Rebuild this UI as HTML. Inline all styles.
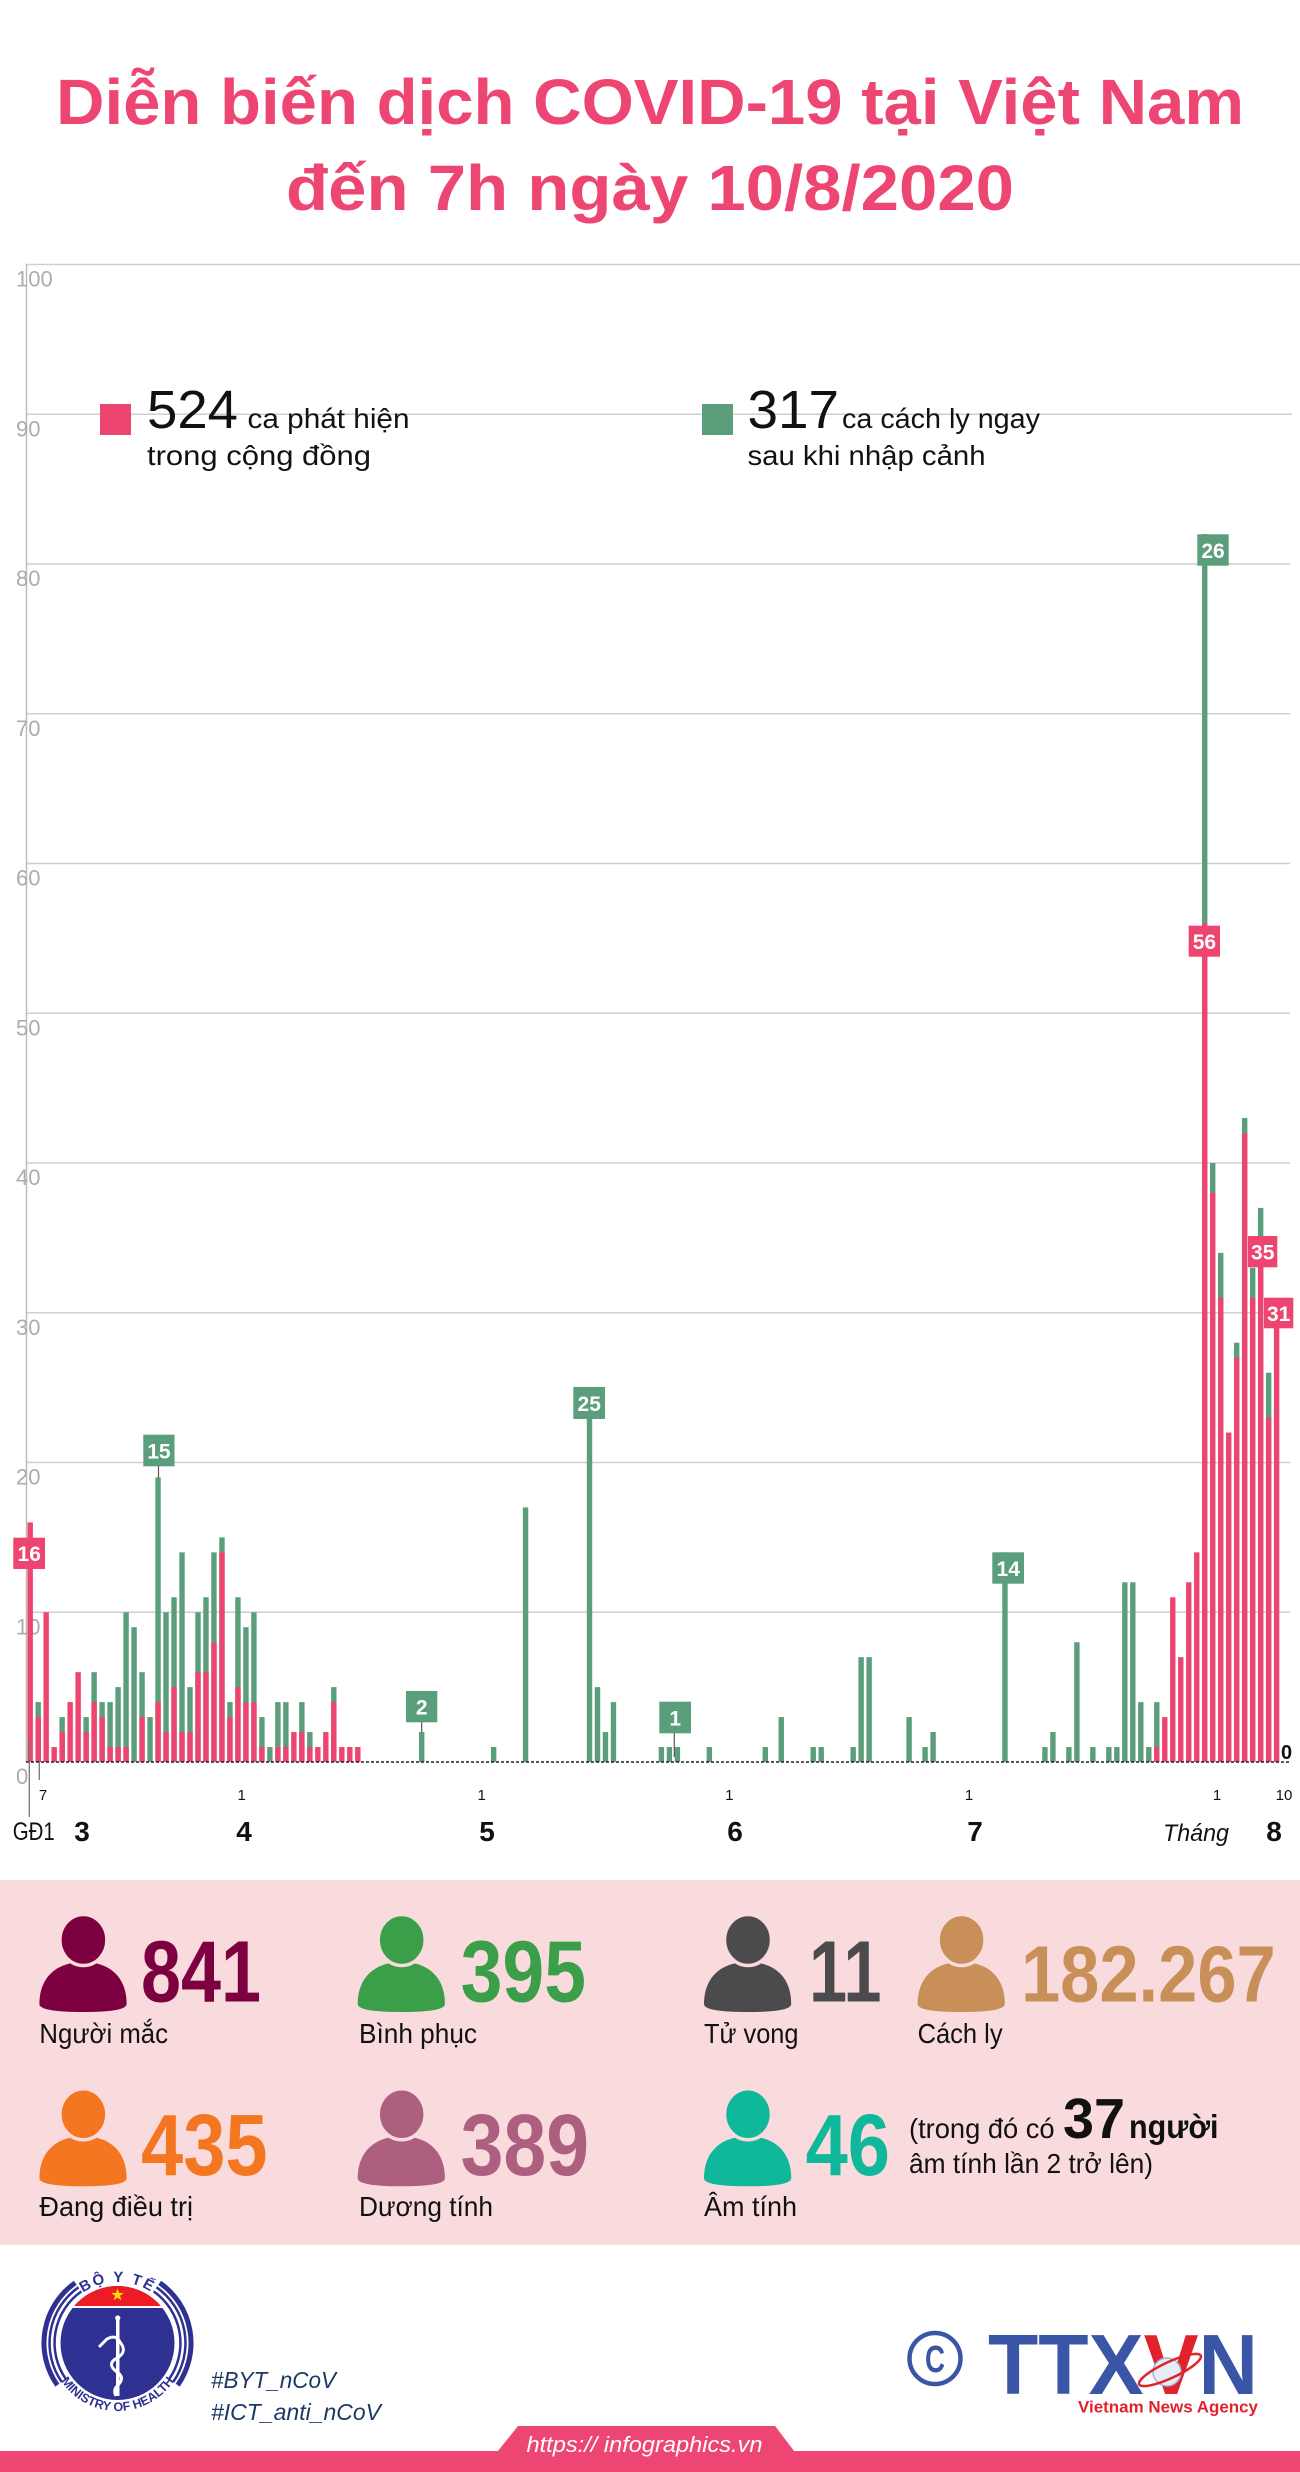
<!DOCTYPE html>
<html><head><meta charset="utf-8">
<style>
html,body{margin:0;padding:0;background:#fff;}
svg{display:block;}
text{font-family:"Liberation Sans", "DejaVu Sans", sans-serif;}
.g{fill:#5b9e7b;}
.p{fill:#ee4570;}
.yl{font-size:22px;fill:#acacac;}
.dl{font-size:15px;fill:#111;text-anchor:middle;}
.mo{font-size:28px;font-weight:bold;fill:#111;text-anchor:middle;}
.bx{font-size:21px;font-weight:bold;fill:#fff;text-anchor:middle;}
.num{font-weight:bold;}
.lab{font-size:28px;fill:#111;}
</style></head><body>
<svg width="1300" height="2472" viewBox="0 0 1300 2472" xmlns="http://www.w3.org/2000/svg">
<rect x="0" y="0" width="1300" height="2472" fill="#fff"/>

<!-- Title -->
<text x="56" y="124" font-size="64" font-weight="bold" fill="#ee4672" textLength="1188" lengthAdjust="spacingAndGlyphs">Diễn biến dịch COVID-19 tại Việt Nam</text>
<text x="286" y="210" font-size="64" font-weight="bold" fill="#ee4672" textLength="728" lengthAdjust="spacingAndGlyphs">đến 7h ngày 10/8/2020</text>

<!-- Grid -->
<g stroke="#cfcfcf" stroke-width="1.5">
<line x1="26" y1="264.5" x2="1300" y2="264.5"/>
<line x1="26" y1="414.25" x2="1292" y2="414.25"/>
<line x1="26" y1="564" x2="1290" y2="564"/>
<line x1="26" y1="713.75" x2="1290" y2="713.75"/>
<line x1="26" y1="863.5" x2="1290" y2="863.5"/>
<line x1="26" y1="1013.25" x2="1290" y2="1013.25"/>
<line x1="26" y1="1163" x2="1290" y2="1163"/>
<line x1="26" y1="1312.75" x2="1290" y2="1312.75"/>
<line x1="26" y1="1462.5" x2="1290" y2="1462.5"/>
<line x1="26" y1="1612.25" x2="1290" y2="1612.25"/>
</g>
<line x1="26.5" y1="264" x2="26.5" y2="1762" stroke="#bdbdbd" stroke-width="1.5"/>

<!-- Y labels -->
<text class="yl" x="16" y="286.5">100</text>
<text class="yl" x="16" y="436.25">90</text>
<text class="yl" x="16" y="586">80</text>
<text class="yl" x="16" y="735.75">70</text>
<text class="yl" x="16" y="885.5">60</text>
<text class="yl" x="16" y="1035.25">50</text>
<text class="yl" x="16" y="1185">40</text>
<text class="yl" x="16" y="1334.75">30</text>
<text class="yl" x="16" y="1484.5">20</text>
<text class="yl" x="16" y="1634.25">10</text>
<text class="yl" x="16" y="1784">0</text>

<!-- Legend -->
<rect x="100" y="404" width="31" height="31" fill="#ee4570"/>
<text x="147" y="428" font-size="54" fill="#111" textLength="91" lengthAdjust="spacingAndGlyphs">524</text>
<text x="247.5" y="428" font-size="28" fill="#111" textLength="162" lengthAdjust="spacingAndGlyphs">ca phát hiện</text>
<text x="147" y="465" font-size="28" fill="#111" textLength="224" lengthAdjust="spacingAndGlyphs">trong cộng đồng</text>
<rect x="702" y="404" width="31" height="31" fill="#5b9e7b"/>
<text x="747.5" y="428" font-size="54" fill="#111" textLength="91.5" lengthAdjust="spacingAndGlyphs">317</text>
<text x="842" y="428" font-size="28" fill="#111" textLength="198" lengthAdjust="spacingAndGlyphs">ca cách ly ngay</text>
<text x="747.5" y="465" font-size="28" fill="#111" textLength="238" lengthAdjust="spacingAndGlyphs">sau khi nhập cảnh</text>

<!-- Bars -->
<g>
<rect class="p" x="27.50" y="1522.4" width="5.4" height="239.6"/>
<rect class="g" x="35.49" y="1702.1" width="5.4" height="59.9"/><rect class="p" x="35.49" y="1717.07" width="5.4" height="44.93"/>
<rect class="p" x="43.48" y="1612.25" width="5.4" height="149.75"/>
<rect class="p" x="51.47" y="1747.02" width="5.4" height="14.98"/>
<rect class="g" x="59.46" y="1717.07" width="5.4" height="44.93"/><rect class="p" x="59.46" y="1732.05" width="5.4" height="29.95"/>
<rect class="p" x="67.45" y="1702.1" width="5.4" height="59.9"/>
<rect class="p" x="75.44" y="1672.15" width="5.4" height="89.85"/>
<rect class="g" x="83.43" y="1717.07" width="5.4" height="44.93"/><rect class="p" x="83.43" y="1732.05" width="5.4" height="29.95"/>
<rect class="g" x="91.42" y="1672.15" width="5.4" height="89.85"/><rect class="p" x="91.42" y="1702.1" width="5.4" height="59.9"/>
<rect class="g" x="99.41" y="1702.1" width="5.4" height="59.9"/><rect class="p" x="99.41" y="1717.07" width="5.4" height="44.93"/>
<rect class="g" x="107.40" y="1702.1" width="5.4" height="59.9"/><rect class="p" x="107.40" y="1747.02" width="5.4" height="14.98"/>
<rect class="g" x="115.39" y="1687.12" width="5.4" height="74.88"/><rect class="p" x="115.39" y="1747.02" width="5.4" height="14.98"/>
<rect class="g" x="123.38" y="1612.25" width="5.4" height="149.75"/><rect class="p" x="123.38" y="1747.02" width="5.4" height="14.98"/>
<rect class="g" x="131.37" y="1627.22" width="5.4" height="134.78"/>
<rect class="g" x="139.36" y="1672.15" width="5.4" height="89.85"/><rect class="p" x="139.36" y="1717.07" width="5.4" height="44.93"/>
<rect class="g" x="147.35" y="1717.07" width="5.4" height="44.93"/>
<rect class="g" x="155.34" y="1477.47" width="5.4" height="284.53"/><rect class="p" x="155.34" y="1702.1" width="5.4" height="59.9"/>
<rect class="g" x="163.33" y="1612.25" width="5.4" height="149.75"/><rect class="p" x="163.33" y="1732.05" width="5.4" height="29.95"/>
<rect class="g" x="171.32" y="1597.27" width="5.4" height="164.73"/><rect class="p" x="171.32" y="1687.12" width="5.4" height="74.88"/>
<rect class="g" x="179.31" y="1552.35" width="5.4" height="209.65"/><rect class="p" x="179.31" y="1732.05" width="5.4" height="29.95"/>
<rect class="g" x="187.30" y="1687.12" width="5.4" height="74.88"/><rect class="p" x="187.30" y="1732.05" width="5.4" height="29.95"/>
<rect class="g" x="195.29" y="1612.25" width="5.4" height="149.75"/><rect class="p" x="195.29" y="1672.15" width="5.4" height="89.85"/>
<rect class="g" x="203.28" y="1597.27" width="5.4" height="164.73"/><rect class="p" x="203.28" y="1672.15" width="5.4" height="89.85"/>
<rect class="g" x="211.27" y="1552.35" width="5.4" height="209.65"/><rect class="p" x="211.27" y="1642.2" width="5.4" height="119.8"/>
<rect class="g" x="219.26" y="1537.37" width="5.4" height="224.63"/><rect class="p" x="219.26" y="1552.35" width="5.4" height="209.65"/>
<rect class="g" x="227.25" y="1702.1" width="5.4" height="59.9"/><rect class="p" x="227.25" y="1717.07" width="5.4" height="44.93"/>
<rect class="g" x="235.24" y="1597.27" width="5.4" height="164.73"/><rect class="p" x="235.24" y="1687.12" width="5.4" height="74.88"/>
<rect class="g" x="243.23" y="1627.22" width="5.4" height="134.78"/><rect class="p" x="243.23" y="1702.1" width="5.4" height="59.9"/>
<rect class="g" x="251.22" y="1612.25" width="5.4" height="149.75"/><rect class="p" x="251.22" y="1702.1" width="5.4" height="59.9"/>
<rect class="g" x="259.21" y="1717.07" width="5.4" height="44.93"/><rect class="p" x="259.21" y="1747.02" width="5.4" height="14.98"/>
<rect class="g" x="267.20" y="1747.02" width="5.4" height="14.98"/>
<rect class="g" x="275.19" y="1702.1" width="5.4" height="59.9"/><rect class="p" x="275.19" y="1747.02" width="5.4" height="14.98"/>
<rect class="g" x="283.18" y="1702.1" width="5.4" height="59.9"/><rect class="p" x="283.18" y="1747.02" width="5.4" height="14.98"/>
<rect class="p" x="291.17" y="1732.05" width="5.4" height="29.95"/>
<rect class="g" x="299.16" y="1702.1" width="5.4" height="59.9"/><rect class="p" x="299.16" y="1732.05" width="5.4" height="29.95"/>
<rect class="g" x="307.15" y="1732.05" width="5.4" height="29.95"/><rect class="p" x="307.15" y="1747.02" width="5.4" height="14.98"/>
<rect class="p" x="315.14" y="1747.02" width="5.4" height="14.98"/>
<rect class="p" x="323.13" y="1732.05" width="5.4" height="29.95"/>
<rect class="g" x="331.12" y="1687.12" width="5.4" height="74.88"/><rect class="p" x="331.12" y="1702.1" width="5.4" height="59.9"/>
<rect class="p" x="339.11" y="1747.02" width="5.4" height="14.98"/>
<rect class="p" x="347.10" y="1747.02" width="5.4" height="14.98"/>
<rect class="p" x="355.09" y="1747.02" width="5.4" height="14.98"/>
<rect class="g" x="419.01" y="1732.05" width="5.4" height="29.95"/>
<rect class="g" x="490.92" y="1747.02" width="5.4" height="14.98"/>
<rect class="g" x="522.88" y="1507.42" width="5.4" height="254.58"/>
<rect class="g" x="586.80" y="1387.62" width="5.4" height="374.38"/>
<rect class="g" x="594.79" y="1687.12" width="5.4" height="74.88"/>
<rect class="g" x="602.78" y="1732.05" width="5.4" height="29.95"/>
<rect class="g" x="610.77" y="1702.1" width="5.4" height="59.9"/>
<rect class="g" x="658.71" y="1747.02" width="5.4" height="14.98"/>
<rect class="g" x="666.70" y="1747.02" width="5.4" height="14.98"/>
<rect class="g" x="674.69" y="1747.02" width="5.4" height="14.98"/>
<rect class="g" x="706.65" y="1747.02" width="5.4" height="14.98"/>
<rect class="g" x="762.58" y="1747.02" width="5.4" height="14.98"/>
<rect class="g" x="778.56" y="1717.07" width="5.4" height="44.93"/>
<rect class="g" x="810.52" y="1747.02" width="5.4" height="14.98"/>
<rect class="g" x="818.51" y="1747.02" width="5.4" height="14.98"/>
<rect class="g" x="850.47" y="1747.02" width="5.4" height="14.98"/>
<rect class="g" x="858.46" y="1657.17" width="5.4" height="104.83"/>
<rect class="g" x="866.45" y="1657.17" width="5.4" height="104.83"/>
<rect class="g" x="906.40" y="1717.07" width="5.4" height="44.93"/>
<rect class="g" x="922.38" y="1747.02" width="5.4" height="14.98"/>
<rect class="g" x="930.37" y="1732.05" width="5.4" height="29.95"/>
<rect class="g" x="1002.28" y="1552.35" width="5.4" height="209.65"/>
<rect class="g" x="1042.23" y="1747.02" width="5.4" height="14.98"/>
<rect class="g" x="1050.22" y="1732.05" width="5.4" height="29.95"/>
<rect class="g" x="1066.20" y="1747.02" width="5.4" height="14.98"/>
<rect class="g" x="1074.19" y="1642.2" width="5.4" height="119.8"/>
<rect class="g" x="1090.17" y="1747.02" width="5.4" height="14.98"/>
<rect class="g" x="1106.15" y="1747.02" width="5.4" height="14.98"/>
<rect class="g" x="1114.14" y="1747.02" width="5.4" height="14.98"/>
<rect class="g" x="1122.13" y="1582.3" width="5.4" height="179.7"/>
<rect class="g" x="1130.12" y="1582.3" width="5.4" height="179.7"/>
<rect class="g" x="1138.11" y="1702.1" width="5.4" height="59.9"/>
<rect class="g" x="1146.10" y="1747.02" width="5.4" height="14.98"/>
<rect class="g" x="1154.09" y="1702.1" width="5.4" height="59.9"/><rect class="p" x="1154.09" y="1747.02" width="5.4" height="14.98"/>
<rect class="p" x="1162.08" y="1717.07" width="5.4" height="44.93"/>
<rect class="p" x="1170.07" y="1597.27" width="5.4" height="164.73"/>
<rect class="p" x="1178.06" y="1657.17" width="5.4" height="104.83"/>
<rect class="p" x="1186.05" y="1582.3" width="5.4" height="179.7"/>
<rect class="p" x="1194.04" y="1552.35" width="5.4" height="209.65"/>
<rect class="g" x="1202.03" y="534.05" width="5.4" height="1227.95"/><rect class="p" x="1202.03" y="923.4" width="5.4" height="838.6"/>
<rect class="g" x="1210.02" y="1163" width="5.4" height="599"/><rect class="p" x="1210.02" y="1192.95" width="5.4" height="569.05"/>
<rect class="g" x="1218.01" y="1252.85" width="5.4" height="509.15"/><rect class="p" x="1218.01" y="1297.77" width="5.4" height="464.23"/>
<rect class="p" x="1226.00" y="1432.55" width="5.4" height="329.45"/>
<rect class="g" x="1233.99" y="1342.7" width="5.4" height="419.3"/><rect class="p" x="1233.99" y="1357.67" width="5.4" height="404.33"/>
<rect class="g" x="1241.98" y="1118.07" width="5.4" height="643.93"/><rect class="p" x="1241.98" y="1133.05" width="5.4" height="628.95"/>
<rect class="g" x="1249.97" y="1267.82" width="5.4" height="494.18"/><rect class="p" x="1249.97" y="1297.77" width="5.4" height="464.23"/>
<rect class="g" x="1257.96" y="1207.92" width="5.4" height="554.08"/><rect class="p" x="1257.96" y="1237.87" width="5.4" height="524.13"/>
<rect class="g" x="1265.95" y="1372.65" width="5.4" height="389.35"/><rect class="p" x="1265.95" y="1417.57" width="5.4" height="344.43"/>
<rect class="p" x="1273.94" y="1297.77" width="5.4" height="464.23"/>
</g>

<!-- baseline -->
<line x1="26" y1="1762" x2="1290" y2="1762" stroke="#222" stroke-width="1.6" stroke-dasharray="3 2"/>
<text x="1281" y="1759" font-size="20" font-weight="bold" fill="#111">0</text>

<!-- leader lines -->
<g stroke="#555" stroke-width="1.2">
<line x1="158.5" y1="1466" x2="158.5" y2="1478"/>
<line x1="421.7" y1="1722" x2="421.7" y2="1732"/>
<line x1="674.3" y1="1733" x2="674.3" y2="1757"/>
</g>

<!-- label boxes -->
<rect x="13.3" y="1537.7" width="31.7" height="31.3" fill="#ee4570"/><text class="bx" x="29.2" y="1561">16</text>
<rect x="143.3" y="1434.7" width="31.2" height="31.6" fill="#5b9e7b"/><text class="bx" x="158.9" y="1458.5">15</text>
<rect x="406" y="1691" width="31.3" height="31.3" fill="#5b9e7b"/><text class="bx" x="421.7" y="1714.5">2</text>
<rect x="573.3" y="1387" width="31.7" height="32" fill="#5b9e7b"/><text class="bx" x="589.2" y="1410.8">25</text>
<rect x="659.3" y="1701.7" width="31.7" height="31.6" fill="#5b9e7b"/><text class="bx" x="675.2" y="1725.3">1</text>
<rect x="992.3" y="1552.3" width="31.7" height="31.4" fill="#5b9e7b"/><text class="bx" x="1008.2" y="1575.8">14</text>
<rect x="1197.3" y="534.3" width="31.4" height="31.4" fill="#5b9e7b"/><text class="bx" x="1213" y="557.8">26</text>
<rect x="1188.7" y="925.7" width="31.3" height="31" fill="#ee4570"/><text class="bx" x="1204.4" y="948.9">56</text>
<rect x="1248" y="1236" width="29.3" height="31.3" fill="#ee4570"/><text class="bx" x="1262.7" y="1259.4">35</text>
<rect x="1264" y="1297.7" width="29.3" height="30.6" fill="#ee4570"/><text class="bx" x="1278.7" y="1320.8">31</text>

<!-- x axis ticks & labels -->
<line x1="29.3" y1="1740" x2="29.3" y2="1817" stroke="#777" stroke-width="1.3"/>
<line x1="39.3" y1="1762" x2="39.3" y2="1780" stroke="#777" stroke-width="1.3"/>
<text class="dl" x="43" y="1800">7</text>
<text class="dl" x="241.7" y="1800">1</text>
<text class="dl" x="481.7" y="1800">1</text>
<text class="dl" x="729.3" y="1800">1</text>
<text class="dl" x="969" y="1800">1</text>
<text class="dl" x="1217" y="1800">1</text>
<text class="dl" x="1284" y="1800">10</text>
<text x="12.7" y="1840" font-size="25" fill="#111" textLength="42" lengthAdjust="spacingAndGlyphs">GĐ1</text>
<text class="mo" x="82" y="1841">3</text>
<text class="mo" x="244" y="1841">4</text>
<text class="mo" x="487" y="1841">5</text>
<text class="mo" x="735" y="1841">6</text>
<text class="mo" x="975" y="1841">7</text>
<text x="1163" y="1841" font-size="24" font-style="italic" fill="#111" textLength="66" lengthAdjust="spacingAndGlyphs">Tháng</text>
<text class="mo" x="1274" y="1841">8</text>

<!-- Stats band -->
<rect x="0" y="1880" width="1300" height="365" fill="#fadbdd"/>
<defs>
<g id="person">
<path d="M39.4,2004 C39.4,1976 58,1962 83.2,1962 C108.5,1962 126.6,1976 126.6,2004 Q126.6,2012 83.2,2012 Q39.4,2012 39.4,2004 Z"/>
<ellipse cx="83.4" cy="1940" rx="23.5" ry="25.5" stroke="#fadbdd" stroke-width="3.5"/>
</g>
</defs>
<use href="#person" fill="#7d0040"/>
<use href="#person" fill="#3b9e48" transform="translate(318.3,0)"/>
<use href="#person" fill="#4b4b4e" transform="translate(664.6,0)"/>
<use href="#person" fill="#c88f58" transform="translate(878.2,0)"/>
<use href="#person" fill="#f47621" transform="translate(0,174.3)"/>
<use href="#person" fill="#ad5f80" transform="translate(318.3,174.3)"/>
<use href="#person" fill="#0fb89a" transform="translate(664.6,174.3)"/>

<text class="num" x="141" y="2001.7" font-size="87" fill="#7d0040" textLength="120" lengthAdjust="spacingAndGlyphs">841</text>
<text class="num" x="460.6" y="2001.7" font-size="87" fill="#3b9e48" textLength="125.4" lengthAdjust="spacingAndGlyphs">395</text>
<text class="num" x="809" y="2001.7" font-size="87" fill="#4b4b4e" textLength="72.5" lengthAdjust="spacingAndGlyphs">11</text>
<text class="num" x="1021" y="2001.7" font-size="80" fill="#c88f58" textLength="254.7" lengthAdjust="spacingAndGlyphs">182.267</text>
<text class="num" x="141" y="2175" font-size="87" fill="#f47621" textLength="126.6" lengthAdjust="spacingAndGlyphs">435</text>
<text class="num" x="460.6" y="2175" font-size="87" fill="#ad5f80" textLength="128.4" lengthAdjust="spacingAndGlyphs">389</text>
<text class="num" x="805.6" y="2175" font-size="87" fill="#0fb89a" textLength="84.4" lengthAdjust="spacingAndGlyphs">46</text>

<text class="lab" x="39.4" y="2043" textLength="128.6" lengthAdjust="spacingAndGlyphs">Người mắc</text>
<text class="lab" x="359" y="2043" textLength="118" lengthAdjust="spacingAndGlyphs">Bình phục</text>
<text class="lab" x="704" y="2043" textLength="94.5" lengthAdjust="spacingAndGlyphs">Tử vong</text>
<text class="lab" x="917.6" y="2043" textLength="85" lengthAdjust="spacingAndGlyphs">Cách ly</text>
<text class="lab" x="39.4" y="2216" textLength="153.6" lengthAdjust="spacingAndGlyphs">Đang điều trị</text>
<text class="lab" x="359" y="2216" textLength="134" lengthAdjust="spacingAndGlyphs">Dương tính</text>
<text class="lab" x="704" y="2216" textLength="93" lengthAdjust="spacingAndGlyphs">Âm tính</text>

<text x="909" y="2138" font-size="28" fill="#111" textLength="145.6" lengthAdjust="spacingAndGlyphs">(trong đó có</text>
<text x="1063" y="2138" font-size="57" font-weight="bold" fill="#111" textLength="62" lengthAdjust="spacingAndGlyphs">37</text>
<text x="1129" y="2138" font-size="33" font-weight="bold" fill="#111" textLength="89.5" lengthAdjust="spacingAndGlyphs">người</text>
<text x="909" y="2173" font-size="28" fill="#111" textLength="244" lengthAdjust="spacingAndGlyphs">âm tính lần 2 trở lên)</text>

<!-- Footer: Ministry of Health logo -->
<g fill="none" stroke="#2e3192">
<path d="M81.4 2291.4 A63 63 0 0 0 65.9 2379.1" stroke-width="2.5"/>
<path d="M78.5 2287.3 A68 68 0 0 0 61.8 2382" stroke-width="2.5"/>
<path d="M75.3 2282.8 A73.5 73.5 0 0 0 57.3 2385.2" stroke-width="5"/>
<path d="M153.6 2291.4 A63 63 0 0 1 169.1 2379.1" stroke-width="2.5"/>
<path d="M156.5 2287.3 A68 68 0 0 1 173.2 2382" stroke-width="2.5"/>
<path d="M159.7 2282.8 A73.5 73.5 0 0 1 177.7 2385.2" stroke-width="5"/>
</g>
<clipPath id="mohc"><circle cx="117.5" cy="2343" r="57"/></clipPath>
<circle cx="117.5" cy="2343" r="57" fill="#2e3192"/>
<rect x="55" y="2280" width="125" height="26.5" fill="#ed1c24" clip-path="url(#mohc)"/>
<line x1="58" y1="2307" x2="177" y2="2307" stroke="#fff" stroke-width="2" clip-path="url(#mohc)"/>
<polygon points="117.5,2288.5 119.03,2292.9 123.68,2292.99 119.97,2295.8 121.32,2300.26 117.5,2297.6 113.68,2300.26 115.03,2295.8 111.32,2292.99 115.97,2292.9" fill="#ffde00"/>
<rect x="116" y="2318" width="3.5" height="78" fill="#fff"/>
<circle cx="117.75" cy="2318" r="2.6" fill="#fff"/>
<path d="M99 2347 L107 2339 Q116 2334 120 2342 Q128 2352 117 2358 Q106 2364 117 2372 Q126 2378 117 2386 Q113 2390 116 2396" fill="none" stroke="#fff" stroke-width="3"/>
<path id="arcTop" d="M64.67 2312.5 A61 61 0 0 1 170.33 2312.5" fill="none"/>
<text font-size="15" font-weight="bold" fill="#2e3192" letter-spacing="2"><textPath href="#arcTop" startOffset="50%" text-anchor="middle">BỘ Y TẾ</textPath></text>
<path id="arcBot" d="M53.6 2366.3 A68 68 0 0 0 181.4 2366.3" fill="none"/>
<text font-size="12.5" font-weight="bold" fill="#2e3192"><textPath href="#arcBot" startOffset="50%" text-anchor="middle">MINISTRY OF HEALTH</textPath></text>

<text x="211" y="2388" font-size="23" font-style="italic" fill="#1c3966" textLength="125" lengthAdjust="spacingAndGlyphs">#BYT_nCoV</text>
<text x="211" y="2420" font-size="23" font-style="italic" fill="#1c3966" textLength="170" lengthAdjust="spacingAndGlyphs">#ICT_anti_nCoV</text>

<!-- TTXVN logo -->
<circle cx="935" cy="2358.5" r="25.5" fill="none" stroke="#3a55a5" stroke-width="4.5"/>
<text x="935" y="2372" font-size="38" font-weight="bold" fill="#3a55a5" text-anchor="middle" textLength="20" lengthAdjust="spacingAndGlyphs">C</text>
<text x="988" y="2394" font-size="85" font-weight="bold" fill="#3a55a5" textLength="270" lengthAdjust="spacingAndGlyphs">TTX<tspan fill="#e2222b">V</tspan>N</text>
<circle cx="1167" cy="2372" r="14" fill="#e6edf7" stroke="#9fb3d9" stroke-width="1.5"/>
<ellipse cx="1170" cy="2370" rx="34" ry="8" fill="none" stroke="#e2222b" stroke-width="2.5" transform="rotate(-25 1170 2370)"/>
<text x="1078" y="2412.5" font-size="17" font-weight="bold" fill="#e2222b" textLength="180" lengthAdjust="spacingAndGlyphs">Vietnam News Agency</text>

<!-- bottom bar -->
<rect x="0" y="2451" width="1300" height="21" fill="#ee4672"/>
<polygon points="497.5,2451.5 518,2426 775,2426 794.5,2451.5" fill="#ee4672"/>
<text x="526.5" y="2452" font-size="22" font-style="italic" fill="#fff" textLength="236" lengthAdjust="spacingAndGlyphs">https:// infographics.vn</text>
</svg>
</body></html>
